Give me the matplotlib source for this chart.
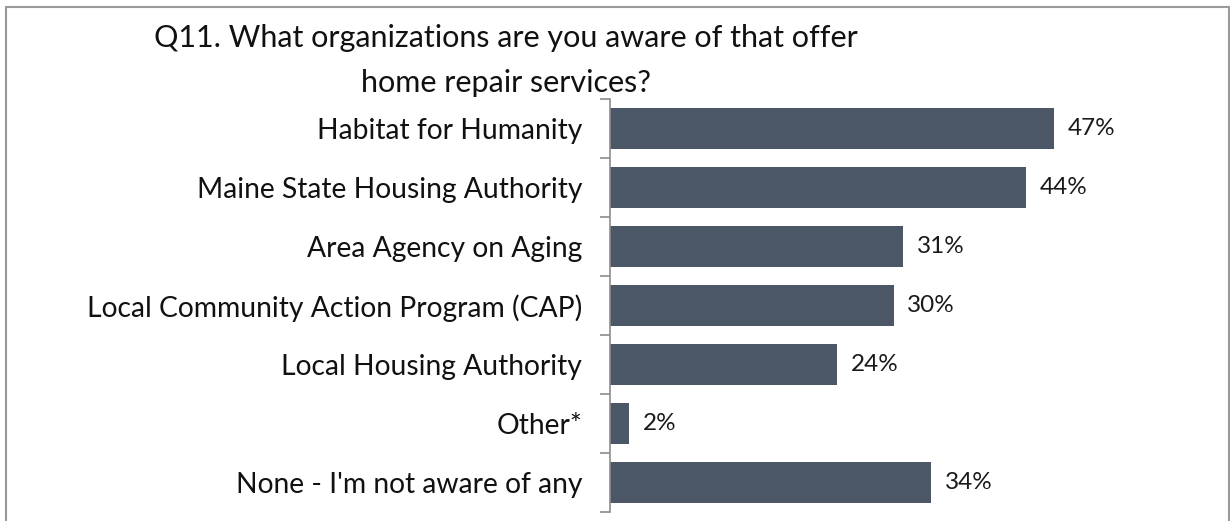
import matplotlib
matplotlib.use("Agg")
import matplotlib.pyplot as plt
from matplotlib.patches import Rectangle
import numpy as np

categories = [
    "Habitat for Humanity",
    "Maine State Housing Authority",
    "Area Agency on Aging",
    "Local Community Action Program (CAP)",
    "Local Housing Authority",
    "Other*",
    "None - I'm not aware of any",
]
values = [47, 44, 31, 30, 24, 2, 34]
value_labels = [f"{v}%" for v in values]
title_lines = ["Q11. What organizations are you aware of that offer",
               "home repair services?"]

plt.rcParams['font.family'] = ['Lato', 'DejaVu Sans']

W, H = 1230, 521
fig = plt.figure(figsize=(W / 100, H / 100), dpi=100)

ax_left, ax_right = 610, 1224
ax_top, ax_bot = 99, 512
ax = fig.add_axes([ax_left / W, 1 - ax_bot / H, (ax_right - ax_left) / W, (ax_bot - ax_top) / H])

bar_color = "#4B5767"
n = len(categories)
y = np.arange(n)
ax.barh(y, values, height=0.69, color=bar_color)
ax.set_ylim(n - 0.5, -0.5)
ax.set_xlim(0, (ax_right - ax_left) / 9.45)

for yi, v, lab in zip(y, values, value_labels):
    ax.annotate(lab, (v, yi), xytext=(10, 0), textcoords="offset points",
                va="center", ha="left", fontsize=17.5, color="#1a1a1a")

ax.set_yticks(y)
ax.set_yticklabels(categories, fontsize=20.3, color="#111111")
ax.tick_params(axis="y", which="major", length=0, pad=20)
ax.set_yticks(np.arange(-0.5, n, 1), minor=True)
ax.tick_params(axis="y", which="minor", length=7.2, width=1.2, color="#8c8c8c")
ax.set_xticks([])

for s in ["top", "right", "bottom"]:
    ax.spines[s].set_visible(False)
ax.spines["left"].set_color("#8c8c8c")
ax.spines["left"].set_linewidth(1.2)

# title
tx = 506 / W
fig.text(tx, 1 - 47 / H, title_lines[0], ha="center", va="baseline", fontsize=22, color="#111111")
fig.text(tx, 1 - 92 / H, title_lines[1], ha="center", va="baseline", fontsize=22, color="#111111")

# chart border
fig.patches.append(Rectangle((5.5 / W, -0.02), (1228.5 - 5.5) / W, 1 - 6.5 / H + 0.02,
                             transform=fig.transFigure, fill=False,
                             edgecolor="#9a9a9a", linewidth=1.5))

fig.savefig("out.png", dpi=100)
